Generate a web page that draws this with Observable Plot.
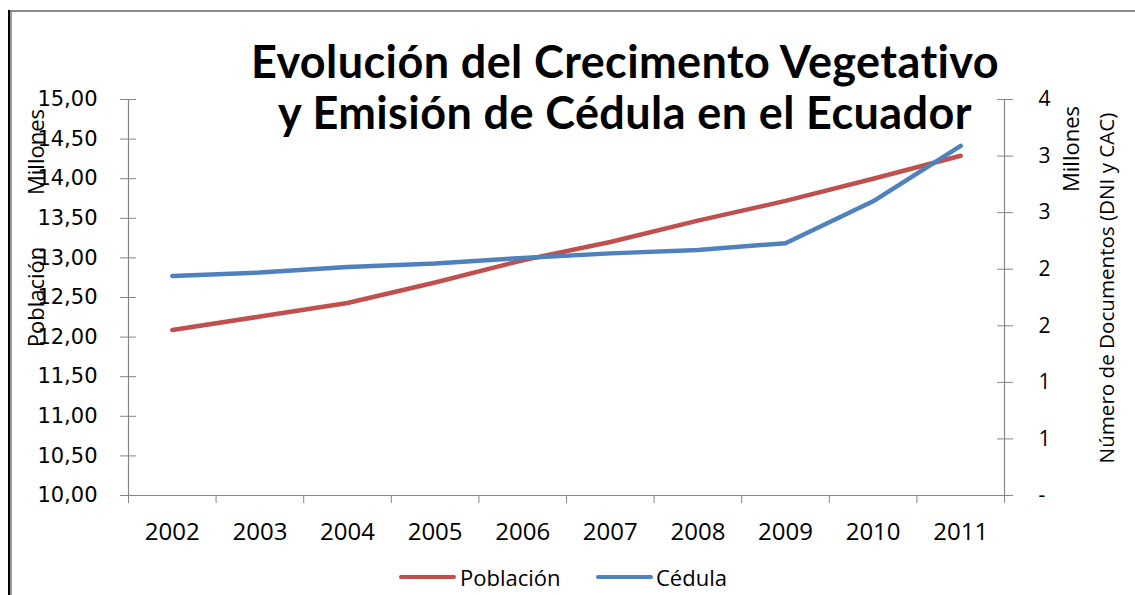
<!DOCTYPE html>
<html>
<head>
<meta charset="utf-8">
<script src="https://cdn.jsdelivr.net/npm/d3@7"></script>
<script src="https://cdn.jsdelivr.net/npm/@observablehq/plot@0.6"></script>
<style>
  html, body { margin: 0; padding: 0; background: #fff; }
  #wrap { position: relative; width: 1135px; height: 595px; overflow: hidden; background: #fff; }
  #wrap svg { position: absolute; left: 0; top: 0; }
  .abs { position: absolute; white-space: nowrap; color: #000; }
  .title { left: 0; width: 1250px; text-align: center; font-family: Lato, sans-serif; font-weight: bold; font-size: 45px; letter-spacing: 0.4px; line-height: 51px; }
  .rot { transform: translate(-50%, -50%) rotate(-90deg); font-family: "Open Sans", sans-serif; font-size: 22px; line-height: 22px; }
  .leg { font-family: "Open Sans", sans-serif; font-size: 22px; line-height: 22px; transform: translateY(-50%); }
  .legline { height: 4px; transform: translateY(-50%); border-radius: 2px; }
</style>
</head>
<body>
<div id="wrap"></div>
<script>
// ---- data ----
const years = [2002, 2003, 2004, 2005, 2006, 2007, 2008, 2009, 2010, 2011];
const poblacion = [12.09, 12.26, 12.43, 12.69, 12.97, 13.20, 13.47, 13.72, 14.00, 14.29]; // millones
const cedula = [1.94, 1.97, 2.02, 2.05, 2.10, 2.14, 2.17, 2.23, 2.60, 3.09];              // millones
const leftTicks = [10, 10.5, 11, 11.5, 12, 12.5, 13, 13.5, 14, 14.5, 15];
const leftTickLabels = ["10,00", "10,50", "11,00", "11,50", "12,00", "12,50", "13,00", "13,50", "14,00", "14,50", "15,00"];
const rightTicks = [0, 0.5, 1, 1.5, 2, 2.5, 3, 3.5];
const rightTickLabels = ["-", "1", "1", "2", "2", "3", "3", "4"];
const seriesNames = ["Población", "Cédula"];
const seriesColors = ["#C0504D", "#4F81BD"];
const titleLines = ["Evolución del Crecimento Vegetativo", "y Emisión de Cédula en el Ecuador"];
const leftTitles = ["Millones", "Población"];
const rightTitles = ["Millones", "Número de Documentos (DNI y CAC)"];

// ---- scales ----
const leftDomain = [10, 15];
const rightDomain = [0, 3.5];
const toLeft = v => leftDomain[0] + (v - rightDomain[0]) * (leftDomain[1] - leftDomain[0]) / (rightDomain[1] - rightDomain[0]);
const table = years.map((yr, i) => ({year: yr, pob: poblacion[i], ced: toLeft(cedula[i])}));
const boundaries = years.map(y => y - 0.5).concat([years[years.length - 1] + 0.5]);
const xDomain = [boundaries[0], boundaries[boundaries.length - 1]];
const gray = "#868686";

const chart = Plot.plot({
  width: 1135,
  height: 595,
  marginLeft: 128,
  marginRight: 131,
  marginTop: 99,
  marginBottom: 100,
  x: {type: "linear", domain: xDomain, axis: null},
  y: {domain: leftDomain, axis: null},
  style: {background: "transparent", color: "#000", fontFamily: "'Open Sans', sans-serif"},
  marks: [
    // axis lines
    Plot.ruleY([leftDomain[0]], {stroke: gray, strokeWidth: 1.2}),
    Plot.ruleX([xDomain[0], xDomain[1]], {stroke: gray, strokeWidth: 1.2}),
    // x boundary ticks
    Plot.axisX({ticks: boundaries, tickSize: 8, tickFormat: () => "", stroke: gray, label: null}),
    // year labels
    Plot.axisX({ticks: years, tickSize: 0, tickPadding: 27, tickFormat: d => String(d), fontSize: 24, fontFamily: "'Open Sans', sans-serif", fill: "#000", label: null}),
    // left ticks (crossing) and labels
    Plot.axisY({anchor: "left", ticks: leftTicks, tickSize: 16, dx: 8, tickFormat: () => "", stroke: gray, label: null}),
    Plot.axisY({anchor: "left", ticks: leftTicks, tickSize: 0, tickPadding: 31,
      tickFormat: d => leftTickLabels[leftTicks.findIndex(t => Math.abs(t - d) < 1e-9)],
      fontSize: 21, fontFamily: "'DejaVu Sans', sans-serif", fill: "#000", label: null}),
    // right ticks (crossing) and labels
    Plot.axisY({anchor: "right", ticks: rightTicks.map(toLeft), tickSize: 16, dx: -8, tickFormat: () => "", stroke: gray, label: null}),
    Plot.axisY({anchor: "right", ticks: rightTicks.map(toLeft), tickSize: 0, tickPadding: 34,
      tickFormat: d => rightTickLabels[rightTicks.findIndex(t => Math.abs(toLeft(t) - d) < 1e-9)],
      fontSize: 21, fontFamily: "'Open Sans', sans-serif", fill: "#000", label: null}),
    // series
    Plot.line(table, {x: "year", y: "pob", stroke: seriesColors[0], strokeWidth: 4.5, strokeLinejoin: "round", strokeLinecap: "round"}),
    Plot.line(table, {x: "year", y: "ced", stroke: seriesColors[1], strokeWidth: 4.5, strokeLinejoin: "round", strokeLinecap: "round"})
  ]
});

const wrap = document.getElementById("wrap");
wrap.appendChild(chart);

function addDiv(cls, text, style) {
  const d = document.createElement("div");
  d.className = "abs " + cls;
  if (text != null) d.textContent = text;
  Object.assign(d.style, style);
  wrap.appendChild(d);
  return d;
}

// frame lines
addDiv("", null, {left: "8px", top: "10px", width: "2px", height: "585px", background: "#000"});
addDiv("", null, {left: "10px", top: "10px", width: "2px", height: "585px", background: "#9a9a9a"});
addDiv("", null, {left: "10px", top: "10px", width: "1125px", height: "2px", background: "#8a8a8a"});

// title
addDiv("title", titleLines[0], {top: "36px"});
addDiv("title", titleLines[1], {top: "87px"});

// axis titles
addDiv("rot", leftTitles[0], {left: "35px", top: "152px"});
addDiv("rot", leftTitles[1], {left: "35px", top: "297px"});
addDiv("rot", rightTitles[0], {left: "1070px", top: "149px"});
addDiv("rot", rightTitles[1], {left: "1106px", top: "288px", fontSize: "20.6px"});

// legend
addDiv("legline", null, {left: "399px", top: "577px", width: "57px", background: seriesColors[0]});
addDiv("leg", seriesNames[0], {left: "460px", top: "577px"});
addDiv("legline", null, {left: "596px", top: "577px", width: "57px", background: seriesColors[1]});
addDiv("leg", seriesNames[1], {left: "656px", top: "577px"});
</script>
</body>
</html>
